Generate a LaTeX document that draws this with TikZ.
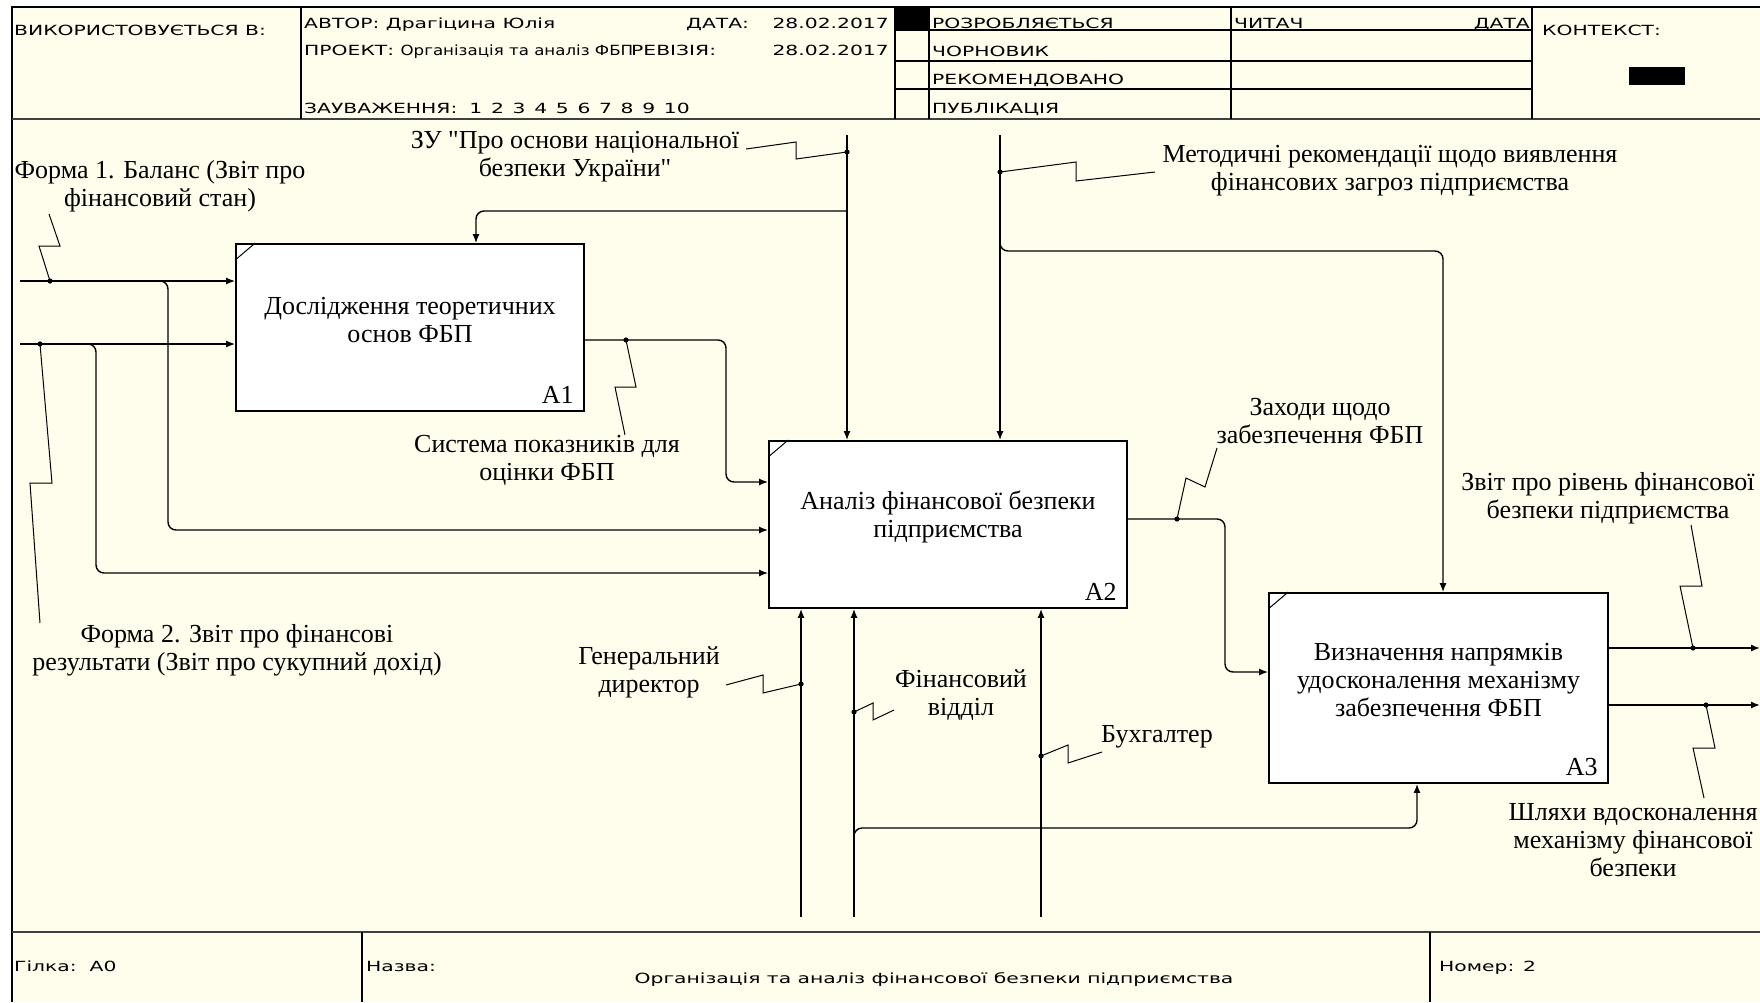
\documentclass[tikz,border=0pt]{standalone}
\usepackage{fontspec}
\setmainfont{Liberation Serif}
\newfontfamily\hdrfont[FakeStretch=1.45]{DejaVu Sans}
\usetikzlibrary{arrows.meta}
\definecolor{paper}{RGB}{255,254,236}

\begin{document}
\begin{tikzpicture}[
 x=1pt,y=-1pt,
 every node/.style={font=\fontsize{26}{28}\selectfont},
 fn/.style={draw,line width=1.8pt,fill=white,inner sep=0pt},
 lbl/.style={align=center,inner sep=0pt},
 hdr/.style={font=\hdrfont\fontsize{14}{16}\selectfont,anchor=base west,inner sep=0pt},
 arr/.style={line width=1.4pt,-{Latex[length=9pt,width=7pt]},rounded corners=8pt},
 sq/.style={line width=1pt},
 grid/.style={line width=1.2pt},
 thick rule/.style={line width=2pt,black!75}
]
 \useasboundingbox (0,0) rectangle (1760,1002);
 \fill[white] (0,0) rectangle (1760,1002);
 \fill[paper] (12,7) rectangle (1760,1002);

 % frame, header and footer
 \draw[grid] (12,1002) -- (12,7) -- (1760,7);
 \draw[thick rule] (12,119) -- (1760,119);
 \draw[thick rule] (12,932) -- (1760,932);
 \foreach \x in {301,895,929,1231,1532}
  \draw[grid] (\x,7) -- (\x,119);
 \foreach \y in {30,61,89}
  \draw[grid] (895,\y) -- (1532,\y);
 \foreach \x in {362,1430}
  \draw[grid] (\x,932) -- (\x,1002);
 \fill (895,7) rectangle (929,30);
 \fill (1629,67) rectangle (1685,85);

 \node[hdr] (used) at (14,35) {ВИКОРИСТОВУЄТЬСЯ В:};
 \node[hdr] (author) at (304,28) {АВТОР: Драгіцина Юлія};
 \node[hdr] (date) at (686,28) {ДАТА:};
 \node[hdr,anchor=base east] (dateval) at (889,28) {28.02.2017};
 \node[hdr] (project) at (304,55) {ПРОЕКТ:\ \scalebox{0.82}[1]{Організація та аналіз ФБП}};
 \node[hdr] (rev) at (631,55) {РЕВІЗІЯ:};
 \node[hdr,anchor=base east] (revval) at (889,55) {28.02.2017};
 \node[hdr] (notes) at (304,113) {ЗАУВАЖЕННЯ:\hspace{12pt}1\hspace{8.7pt}2\hspace{8.7pt}3\hspace{8.7pt}4\hspace{8.7pt}5\hspace{8.7pt}6\hspace{8.7pt}7\hspace{8.7pt}8\hspace{8.7pt}9\hspace{8.7pt}10};
 \node[hdr] (st1) at (932,28) {РОЗРОБЛЯЄТЬСЯ};
 \node[hdr] (st2) at (932,56) {ЧОРНОВИК};
 \node[hdr] (st3) at (932,84) {РЕКОМЕНДОВАНО};
 \node[hdr] (st4) at (932,113) {ПУБЛІКАЦІЯ};
 \node[hdr] (reader) at (1234,28) {ЧИТАЧ};
 \node[hdr,anchor=base east] (rdate) at (1530,28) {ДАТА};
 \node[hdr] (context) at (1542,35) {КОНТЕКСТ:};
 \node[hdr] (branch) at (14,971) {Гілка:\ \ A0};
 \node[hdr] (name) at (366,971) {Назва:};
 \node[hdr,anchor=base] (title) at (934,983) {Організація та аналіз фінансової безпеки підприємства};
 \node[hdr] (number) at (1439,971) {Номер: 2};

 % function boxes
 \node[fn,minimum width=348pt,minimum height=167pt] (a1) at (410,327.5) {};
 \node[fn,minimum width=358pt,minimum height=167pt] (a2) at (948,524.5) {};
 \node[fn,minimum width=339pt,minimum height=190pt] (a3) at (1438.5,688) {};
 \foreach \b/\n in {a1/A1,a2/A2,a3/A3}{
  \draw[line width=1pt] ([yshift=-17pt]\b.north west) -- ([xshift=20pt]\b.north west);
  \node[anchor=base east,inner sep=0pt] at ([xshift=-11pt,yshift=8pt]\b.south east) {\n};
 }
 \node[lbl] (a1txt) at ([yshift=7pt]a1.center) {Дослідження теоретичних\\основ ФБП};
 \node[lbl] (a2txt) at ([yshift=8pt]a2.center) {Аналіз фінансової безпеки\\підприємства};
 \node[lbl] (a3txt) at ([yshift=8pt]a3.center) {Визначення напрямків\\удосконалення механізму\\забезпечення ФБП};

 % inputs
 \coordinate (in1) at (20,281);
 \coordinate (in2) at (20,344);
 \draw[arr] (in1) -- (in1 -| a1.west);
 \draw[arr] (in2) -- (in2 -| a1.west);
 \draw[arr] (150,281) -- (168,281) -- (168,530) -- (a2.west |- 0,530);
 \draw[arr] (85,344) -- (96,344) -- (96,573) -- (a2.west |- 0,573);
 \draw[arr] (a1.east |- 0,340) -- (726,340) -- (726,482) -- (a2.west |- 0,482);
 \draw[arr] (a2.east |- 0,519) -- (1225,519) -- (1225,672) -- (a3.west |- 0,672);

 % controls
 \coordinate (zu) at (847,135);
 \coordinate (mr) at (1000,135);
 \draw[arr] (zu) -- (zu |- a2.north);
 \draw[arr] (847,211) -- (476,211) -- (476,211 |- a1.north);
 \draw[arr] (mr) -- (mr |- a2.north);
 \draw[arr] (1000,240) -- (1000,251) -- (1443,251) -- (1443,251 |- a3.north);

 % outputs
 \draw[arr] (a3.east |- 0,648) -- (1760,648);
 \draw[arr] (a3.east |- 0,705) -- (1760,705);

 % mechanisms
 \coordinate (m1) at (801,917);
 \coordinate (m2) at (854,917);
 \coordinate (m3) at (1041,917);
 \draw[arr] (m1) -- (m1 |- a2.south);
 \draw[arr] (m2) -- (m2 |- a2.south);
 \draw[arr] (m3) -- (m3 |- a2.south);
 \draw[arr] (854,840) -- (854,828) -- (1417,828) -- (1417,828 |- a3.south);

 % labels and their squiggles
 \node[lbl] (f1lab) at (160,186) {Форма 1. Баланс (Звіт про\\фінансовий стан)};
 \node[lbl] (f2lab) at (237,650) {Форма 2. Звіт про фінансові\\результати (Звіт про сукупний дохід)};
 \node[lbl] (sylab) at (547,460) {Система показників для\\оцінки ФБП};
 \node[lbl] (zulab) at (575,157) {ЗУ \textquotedbl Про основи національної\\безпеки України\textquotedbl};
 \node[lbl] (mrlab) at (1390,171) {Методичні рекомендації щодо виявлення\\фінансових загроз підприємства};
 \node[lbl] (zxlab) at (1320,421) {Заходи щодо\\забезпечення ФБП};
 \node[lbl] (rplab) at (1608,498) {Звіт про рівень фінансової\\безпеки підприємства};
 \node[lbl] (shlab) at (1633,840) {Шляхи вдосконалення\\механізму фінансової\\безпеки};
 \node[lbl] (gdlab) at (649,672) {Генеральний\\директор};
 \node[lbl] (fvlab) at (961,695) {Фінансовий\\відділ};
 \node[lbl] (bhlab) at (1157,737) {Бухгалтер};

 \foreach \n/\x/\y in {d1/50/281,d2/40/344,d3/626/340,d4/847/152,d5/1000/172,
   d6/1177/519,d7/1693/648,d8/1706/705,d9/801/684,d10/854/712,d11/1041/756}{
  \coordinate (\n) at (\x,\y);
  \fill (\n) circle (2.6pt);
 }
 \draw[sq] (d1) -- (39,246) -- (60,246) -- (49,214);
 \draw[sq] (d2) -- (52,483) -- (30,483) -- (40,623);
 \draw[sq] (d3) -- (636,387) -- (615,387) -- (625,435);
 \draw[sq] (d4) -- (796,159) -- (796,142) -- (746,149);
 \draw[sq] (d5) -- (1076,162) -- (1076,181) -- (1155,172);
 \draw[sq] (d6) -- (1186,478) -- (1205,487) -- (1217,448);
 \draw[sq] (d7) -- (1680,586) -- (1702,586) -- (1691,525);
 \draw[sq] (d8) -- (1715,748) -- (1693,748) -- (1704,798);
 \draw[sq] (d9) -- (763,693) -- (763,675) -- (726,685);
 \draw[sq] (d10) -- (873,703) -- (873,720) -- (894,710);
 \draw[sq] (d11) -- (1068,745) -- (1068,763) -- (1102,752);
\end{tikzpicture}
\end{document}
